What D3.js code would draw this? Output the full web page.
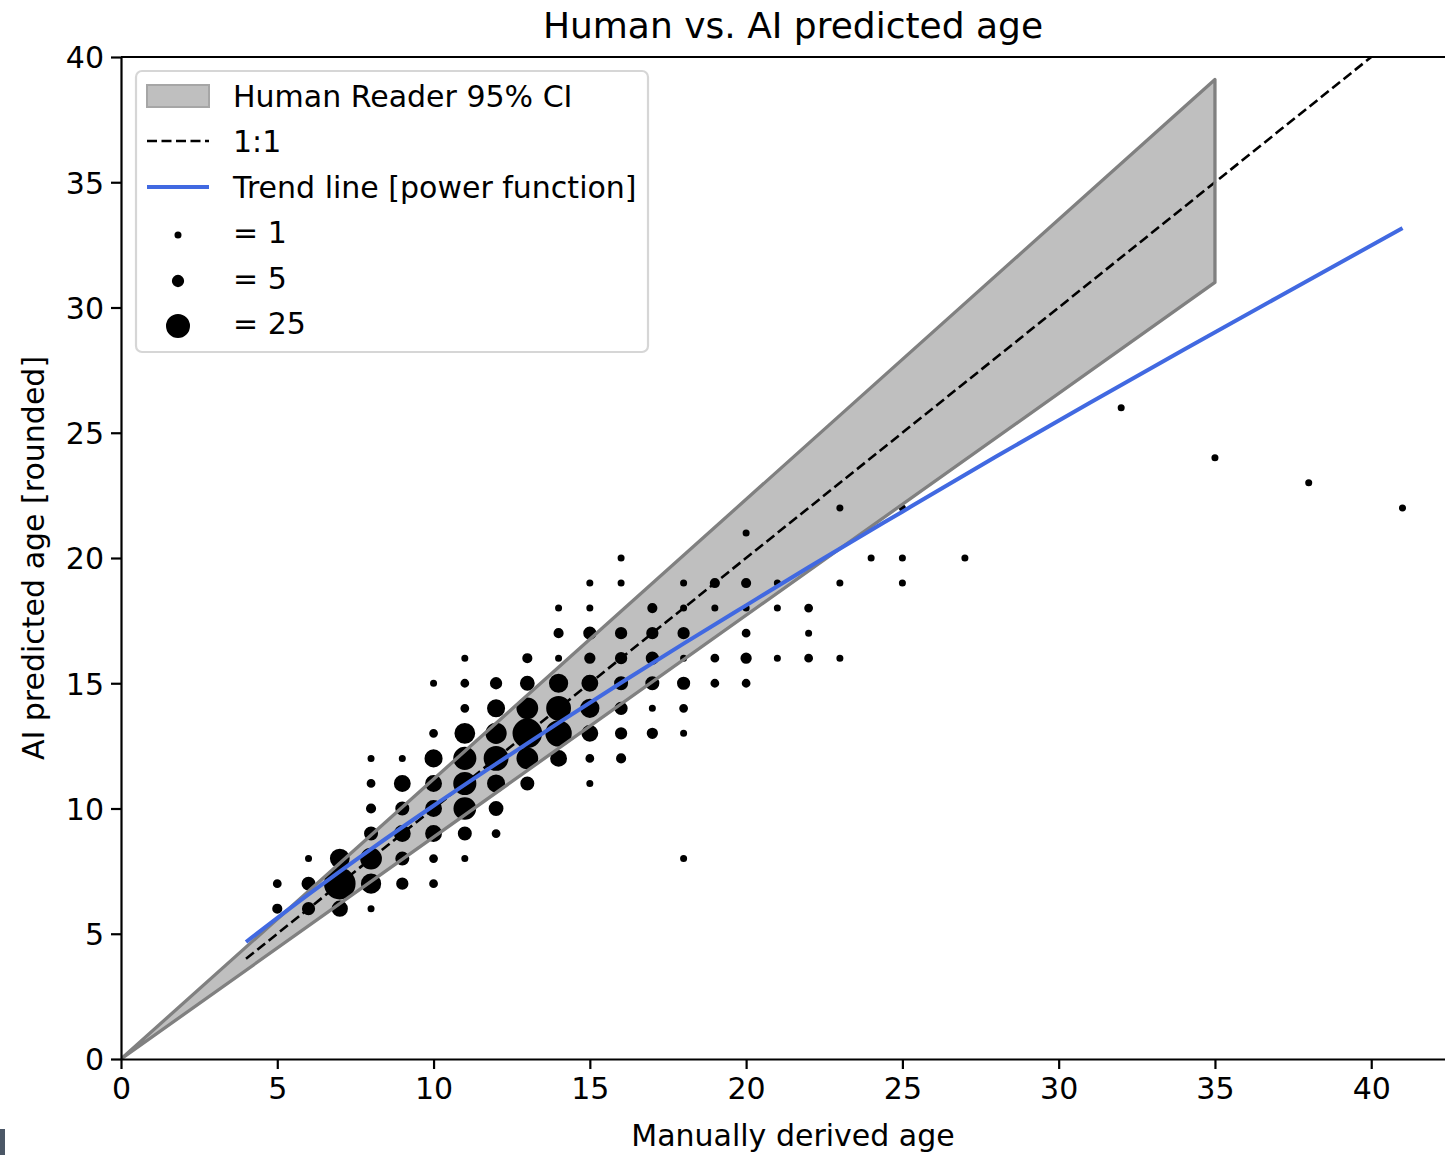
<!DOCTYPE html>
<html>
<head>
<meta charset="utf-8">
<script src="https://cdn.jsdelivr.net/npm/d3@7"></script>
<style>
  body { margin: 0; background: #fff; }
  svg { display: block; font-family: "DejaVu Sans", sans-serif; }
</style>
</head>
<body>
<svg width="1445" height="1155"></svg>
<script>
// scatter: manual age, AI age, number of fish at that spot
let ageManual = [5,5, 6,6,6, 7,7,7, 8,8,8,8,8,8,8, 9,9,9,9,9,9,
  10,10,10,10,10,10,10,10, 11,11,11,11,11,11,11,11,11, 12,12,12,12,12,12,12,
  13,13,13,13,13,13, 14,14,14,14,14,14,14, 15,15,15,15,15,15,15,15,15,
  16,16,16,16,16,16,16,16, 17,17,17,17,17,17, 18,18,18,18,18,18,18,18,
  19,19,19,19, 20,20,20,20,20,20, 21,21,21, 22,22,22, 23,23,23, 24,
  25,25,25, 27, 32, 35, 38, 41];
let agePredicted = [7,6, 8,7,6, 8,7,6, 12,11,10,9,8,7,6, 12,11,10,9,8,7,
  15,13,12,11,10,9,8,7, 16,15,14,13,12,11,10,9,8, 15,14,13,12,11,10,9,
  16,15,14,13,12,11, 18,17,16,15,14,13,12, 19,18,17,16,15,14,13,12,11,
  20,19,17,16,15,14,13,12, 18,17,16,15,14,13, 19,18,17,16,15,14,13,8,
  19,18,16,15, 21,19,18,17,16,15, 19,18,16, 18,17,16, 22,19,16, 20,
  22,20,19, 20, 26, 24, 23, 22];
let pointCount = [2,3, 1,7,6, 16,46,10, 1,2,3,7,20,17,1, 1,11,7,11,7,5,
  1,2,13,11,11,11,2,2, 1,2,2,18,23,23,22,7,1, 5,13,19,27,13,8,2,
  3,8,20,40,20,7, 1,3,1,15,27,31,11, 1,1,6,4,11,15,11,2,1,
  1,1,5,5,7,6,5,3, 3,5,6,7,1,4, 1,1,5,1,6,2,1,1,
  3,1,2,2, 1,3,1,2,4,2, 1,1,1, 2,1,2, 1,1,1, 1,
  1,1,1, 1, 1, 1, 1, 1];

// human reader 95% CI band
let ciX = [0, 35];
let ciLow = [0, 31.0];
let ciHigh = [0, 39.1];

// 1:1 reference
let oneX = [4, 43];

// trend line [power function]
let trendX = [4, 6, 8, 10, 12, 14, 16, 18, 20, 22, 25, 28, 31, 34, 37, 41];
let trendY = [4.67, 6.57, 8.38, 10.11, 11.78, 13.42, 15.02, 16.58, 18.11, 19.63, 21.85, 24.05, 26.20, 28.31, 30.40, 33.17];

let xTicks = [0, 5, 10, 15, 20, 25, 30, 35, 40];
let yTicks = [0, 5, 10, 15, 20, 25, 30, 35, 40];
let legendSizes = [1, 5, 25];

let svg = d3.select("svg"),
  margin = { top: 57, left: 121 },
  plotRight = 1465,
  plotBottom = 1059;

let x = d3.scaleLinear().domain([0, 43]).range([margin.left, plotRight]);
let y = d3.scaleLinear().domain([0, 40]).range([plotBottom, margin.top]);
// marker area follows the count; the edge stroke adds a bit on top
let r = d3.scaleSqrt().domain([0, 25]).range([0, 10.6]);
let edge = 2.8;

svg.append("clipPath").attr("id", "plotclip")
  .append("rect")
  .attr("x", margin.left).attr("y", margin.top)
  .attr("width", plotRight - margin.left).attr("height", plotBottom - margin.top);

let plot = svg.append("g").attr("clip-path", "url(#plotclip)");

// band polygon: along the upper edge, back down the lower one
let bandPts = ciX.map((d, i) => [x(d), y(ciHigh[i])])
  .concat(ciX.map((d, i) => [x(d), y(ciLow[i])]).reverse());

plot.append("path")
  .attr("d", "M" + bandPts.join("L") + "Z")
  .attr("fill", "#bfbfbf");

// dashed 1:1
plot.append("path")
  .attr("d", d3.line()(oneX.map(d => [x(d), y(d)])))
  .attr("stroke", "#000")
  .attr("stroke-width", 2.6)
  .attr("stroke-dasharray", "10,4.5")
  .attr("fill", "none");

// the dots
plot.selectAll("circle.pt")
  .data(pointCount)
  .enter()
  .append("circle")
  .attr("class", "pt")
  .attr("cx", (d, i) => x(ageManual[i]))
  .attr("cy", (d, i) => y(agePredicted[i]))
  .attr("r", d => r(d))
  .attr("fill", "#000")
  .attr("stroke", "#000")
  .attr("stroke-width", edge);

// band outline goes over the dots
plot.append("path")
  .attr("d", "M" + bandPts.join("L") + "Z")
  .attr("fill", "none")
  .attr("stroke", "#808080")
  .attr("stroke-width", 3.3)
  .attr("stroke-linejoin", "round");

// trend line
plot.append("path")
  .attr("d", d3.line().curve(d3.curveMonotoneX)(trendX.map((d, i) => [x(d), y(trendY[i])])))
  .attr("stroke", "#4169e1")
  .attr("stroke-width", 4)
  .attr("fill", "none");

// axes
let xAxis = svg.append("g")
  .attr("transform", "translate(0," + plotBottom + ")")
  .call(d3.axisBottom(x).tickValues(xTicks).tickSize(10).tickPadding(7).tickSizeOuter(0));
let yAxis = svg.append("g")
  .attr("transform", "translate(" + margin.left + ",0)")
  .call(d3.axisLeft(y).tickValues(yTicks).tickSize(10).tickPadding(7).tickSizeOuter(0));

[xAxis, yAxis].forEach(function (g) {
  g.selectAll("path, line").attr("stroke", "#000").attr("stroke-width", 2.2);
  g.selectAll("text").attr("font-size", 30).attr("fill", "#000")
    .attr("font-family", "DejaVu Sans, sans-serif");
});
xAxis.selectAll("text").attr("dy", "0.78em");
yAxis.selectAll("text").attr("dy", "0.36em");

// top spine
svg.append("line")
  .attr("x1", margin.left).attr("x2", plotRight)
  .attr("y1", margin.top).attr("y2", margin.top)
  .attr("stroke", "#000").attr("stroke-width", 2.2);

// titles
svg.append("text")
  .attr("x", 793).attr("y", 38)
  .attr("text-anchor", "middle")
  .attr("font-size", 36)
  .text("Human vs. AI predicted age");

svg.append("text")
  .attr("x", 793).attr("y", 1146)
  .attr("text-anchor", "middle")
  .attr("font-size", 30)
  .text("Manually derived age");

svg.append("text")
  .attr("transform", "translate(44,558) rotate(-90)")
  .attr("text-anchor", "middle")
  .attr("font-size", 30)
  .text("AI predicted age [rounded]");

// legend
let legend = svg.append("g");
legend.append("rect")
  .attr("x", 136).attr("y", 71)
  .attr("width", 512).attr("height", 281)
  .attr("rx", 6)
  .attr("fill", "#fff").attr("fill-opacity", 0.8)
  .attr("stroke", "#d6d6d6").attr("stroke-width", 2.2);

let rowY = [96, 141, 187, 232, 278, 323];
let labels = ["Human Reader 95% CI", "1:1", "Trend line [power function]"]
  .concat(legendSizes.map(d => "= " + d));

legend.append("rect")
  .attr("x", 147).attr("y", rowY[0] - 11)
  .attr("width", 62).attr("height", 22)
  .attr("fill", "#bfbfbf").attr("stroke", "#a6a6a6").attr("stroke-width", 2);

legend.append("line")
  .attr("x1", 147).attr("x2", 209).attr("y1", rowY[1]).attr("y2", rowY[1])
  .attr("stroke", "#000").attr("stroke-width", 2.6).attr("stroke-dasharray", "10,4.5");

legend.append("line")
  .attr("x1", 147).attr("x2", 209).attr("y1", rowY[2]).attr("y2", rowY[2])
  .attr("stroke", "#4169e1").attr("stroke-width", 4);

legend.selectAll("circle")
  .data(legendSizes)
  .enter()
  .append("circle")
  .attr("cx", 178)
  .attr("cy", (d, i) => rowY[i + 3] + 3)
  .attr("r", d => r(d))
  .attr("fill", "#000")
  .attr("stroke", "#000")
  .attr("stroke-width", edge);

legend.selectAll("text")
  .data(labels)
  .enter()
  .append("text")
  .attr("x", 233)
  .attr("y", (d, i) => rowY[i] + 11)
  .attr("font-size", 30)
  .text(d => d);

// little dark mark in the bottom-left corner of the shot
svg.append("rect")
  .attr("x", 0).attr("y", 1129).attr("width", 5).attr("height", 26)
  .attr("fill", "#4b5766");
</script>
</body>
</html>
